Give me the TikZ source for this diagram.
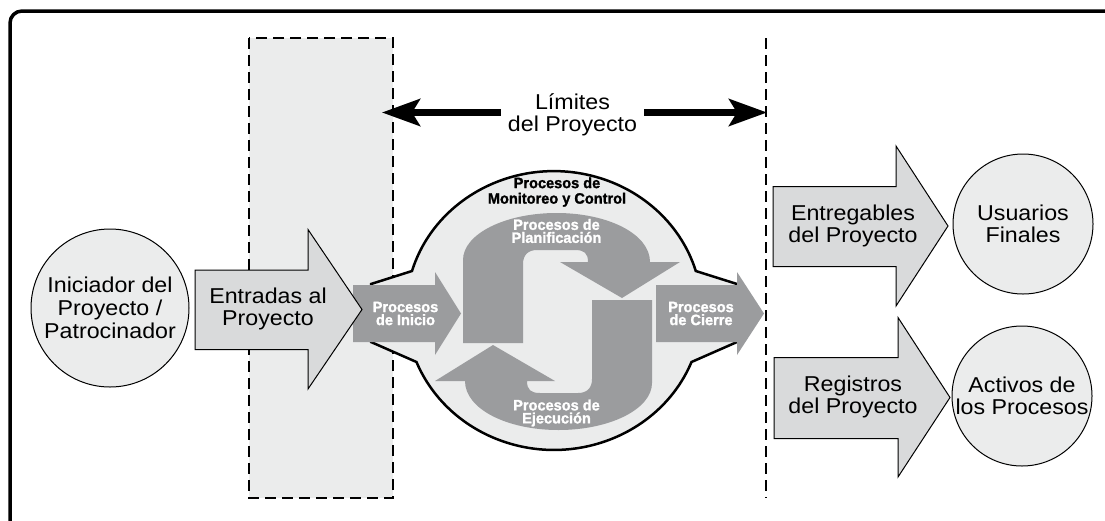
\documentclass[tikz,border=0pt]{standalone}
\usepackage{fontspec}
\setmainfont[FakeStretch=1.08]{Liberation Sans}
\newfontfamily\procfont[FakeStretch=0.97, FakeBold=1.4]{Liberation Sans Bold}
\usetikzlibrary{arrows.meta}
\definecolor{bgfill}{HTML}{EBECEC}
\definecolor{arrfill}{HTML}{D9DADB}
\definecolor{procgray}{HTML}{9B9C9E}
\tikzset{
  big/.style={font=\fontsize{21.5}{22.5}\selectfont, align=center, inner sep=0pt},
  small/.style={font=\procfont\fontsize{15}{13}\selectfont, align=center, inner sep=0pt},
  circ/.style={circle, draw=black, line width=1pt, fill=bgfill, minimum size=#1, inner sep=0pt},
  fatarrow/.style={draw=black, line width=1pt, fill=arrfill, line join=miter},
  procarrow/.style={fill=procgray},
  dashbox/.style={dash pattern=on 11pt off 6pt, line width=2.3pt},
  frame/.style={line width=3.5pt, rounded corners=12pt},
  blob/.style={line width=2.5pt, fill=bgfill, line join=miter},
  limarrow/.style={line width=6.5pt, -{Stealth[length=38pt,width=27pt,inset=8pt]}},
}
\begin{document}
\begin{tikzpicture}[x=1pt,y=-1pt]
\useasboundingbox (0,0) rectangle (1105,520);
\clip (0,0) rectangle (1105,520);
% outer frame (cropped at right and bottom)
\draw[frame] (10,11) rectangle (1140,560);
% project-boundary zone
\draw[dashbox, fill=bgfill] (249,38) rectangle (393,498);
\coordinate (bt) at (766,38);
\coordinate (bb) at (766,498);
\draw[dashbox] (bt) -- (bb);
% limits arrow
\node[big, inner xsep=7pt] (lim) at (572.5,115) {Límites\\del Proyecto};
\coordinate (limL) at (382,112.5);
\coordinate (limR) at (767,112.5);
\draw[limarrow] (lim.west |- limL) -- (limL);
\draw[limarrow] (lim.east |- limR) -- (limR);
% central blob
\draw[blob] (371,284) -- (412,271)
  arc[start angle=196.5, end angle=343.5, x radius=148, y radius=139.5]
  -- (737,284) -- (737,342) -- (691.5,362)
  arc[start angle=21.7, end angle=158.3, x radius=148, y radius=139.5]
  -- (371,342) -- cycle;
% initiating and closing process arrows
\fill[procarrow] (353,285) -- (435,285) -- (435,272) -- (461,313.5) -- (435,355) -- (435,342) -- (353,342) -- cycle;
\fill[procarrow] (656,285) -- (737,285) -- (737,272) -- (764,313.5) -- (737,355) -- (737,342) -- (656,342) -- cycle;
% planning / execution loop
\fill[procarrow] (463,343) -- (463,260) .. controls (463,234) and (505,213) .. (556.5,213)
  .. controls (608,213) and (650,234) .. (650,262) -- (680,262) -- (622,298) -- (560,262) -- (588,262)
  .. controls (588,253) and (584,250) .. (575,250) -- (537,250)
  .. controls (528,250) and (523,255) .. (523,264) -- (523,343) -- cycle;
\fill[procarrow, rotate around={180:(557.5,321.5)}] (463,343) -- (463,260) .. controls (463,234) and (505,213) .. (556.5,213)
  .. controls (608,213) and (650,234) .. (650,262) -- (680,262) -- (622,298) -- (560,262) -- (588,262)
  .. controls (588,253) and (584,250) .. (575,250) -- (537,250)
  .. controls (528,250) and (523,255) .. (523,264) -- (523,343) -- cycle;
% big light arrows
\draw[fatarrow] (195,270) -- (308,270) -- (308,229.5) -- (362,309.5) -- (308,389) -- (308,349.5) -- (195,349.5) -- cycle;
\draw[fatarrow] (773,186.5) -- (896,186.5) -- (896,146) -- (948,226) -- (896,306) -- (896,266.5) -- (773,266.5) -- cycle;
\draw[fatarrow] (774,357.5) -- (898,357.5) -- (898,317.5) -- (950,397.5) -- (898,477) -- (898,438.5) -- (774,438.5) -- cycle;
% circles
\node[circ=158pt, big, font=\fontsize{21.5}{23}\selectfont] (ini) at (110,308) {Iniciador del\\Proyecto /\\Patrocinador};
\node[circ=140pt, big] (usu) at (1023,224) {Usuarios\\Finales};
\node[circ=140pt, big] (act) at (1022,396) {Activos de\\los Procesos};
% texts
\node[big] (ent) at (268,309) {Entradas al\\Proyecto};
\node[big] (entg) at (853,226) {Entregables\\del Proyecto};
\node[big] (reg) at (853,397) {Registros\\del Proyecto};
\node[small, font=\procfont\fontsize{15}{15.5}\selectfont] (mon) at (557,192) {Procesos de\\Monitoreo y Control};
\node[small, text=white] (plan) at (556.5,231) {Procesos de\\Planificación};
\node[small, text=white] (ejec) at (556.5,413) {Procesos de\\Ejecución};
\node[small, text=white] (pini) at (405.5,313.5) {Procesos\\de Inicio};
\node[small, text=white] (pcie) at (701,313.5) {Procesos\\de Cierre};
\end{tikzpicture}
\end{document}
